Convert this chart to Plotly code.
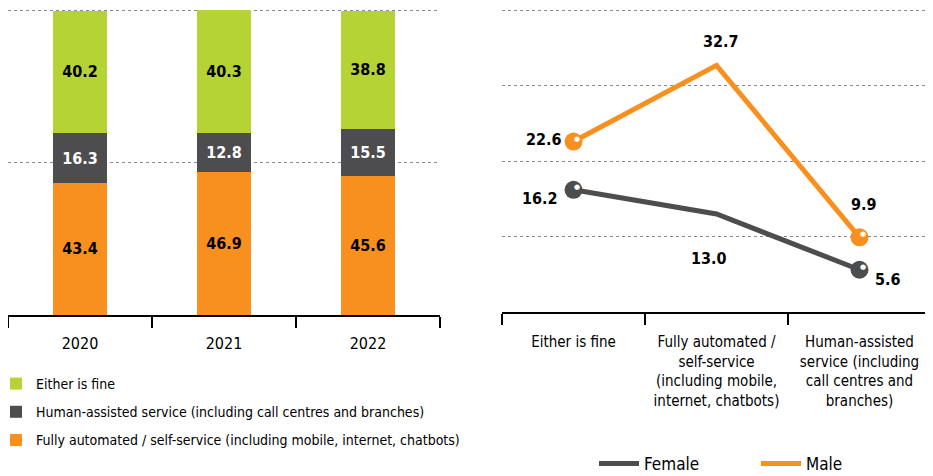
import plotly.graph_objects as go

# ---- data ----
years = ["2020", "2021", "2022"]
fully_automated = [43.4, 46.9, 45.6]
human_assisted = [16.3, 12.8, 15.5]
either_fine = [40.2, 40.3, 38.8]

categories = ["Either is fine",
              "Fully automated /<br>self-service<br>(including mobile,<br>internet, chatbots)",
              "Human-assisted<br>service (including<br>call centres and<br>branches)"]
female = [16.2, 13.0, 5.6]
male = [22.6, 32.7, 9.9]

GREEN = "#b5d334"
GREY = "#4d4d4f"
ORANGE = "#f7901e"
FONT = "DejaVu Sans Condensed, Liberation Sans, sans-serif"

# page body has an 8px margin; figure is sized to fill the rest of the window
OFF = 8
W, H = 933 - OFF, 476 - OFF

def px_x(p, clamp=False):
    v = (p - OFF) / W
    return min(max(v, 0.0), 1.0) if clamp else v

def px_y(p, clamp=False):
    v = (H - (p - OFF)) / H
    return min(max(v, 0.0), 1.0) if clamp else v

fig = go.Figure()

# ---- left: stacked bars ----
bar_specs = [
    ("Fully automated / self-service (including mobile, internet, chatbots)", fully_automated, ORANGE, "black", 3),
    ("Human-assisted service (including call centres and branches)", human_assisted, GREY, "white", 2),
    ("Either is fine", either_fine, GREEN, "black", 1),
]
for k, (name, vals, col, tcol, rank) in enumerate(bar_specs):
    fig.add_trace(go.Bar(
        x=years, y=vals, name=name, marker=dict(color=col, line=dict(width=0)),
        width=0.37, text=[f"{v:.1f}" for v in vals], textposition="inside",
        insidetextanchor="middle", textangle=0,
        textfont=dict(family=FONT, size=16, color=tcol, weight="bold"),
        xaxis="x", yaxis="y", legend="legend", legendgroup=f"g{k}", legendrank=rank,
    ))

# ---- right: lines ----
fig.add_trace(go.Scatter(
    x=categories, y=female, name="Female", mode="lines",
    line=dict(color=GREY, width=5), xaxis="x2", yaxis="y2", legend="legend2",
))
fig.add_trace(go.Scatter(
    x=categories, y=male, name="Male", mode="lines",
    line=dict(color=ORANGE, width=5), xaxis="x2", yaxis="y2", legend="legend3",
))

fig.add_trace(go.Scatter(
    x=categories, y=female, mode="markers", showlegend=False,
    marker=dict(color=GREY, size=[18, 0, 18], opacity=1, line=dict(width=0)),
    xaxis="x2", yaxis="y2", hoverinfo="skip",
))
fig.add_trace(go.Scatter(
    x=categories, y=male, mode="markers", showlegend=False,
    marker=dict(color=ORANGE, size=[18, 0, 18], opacity=1, line=dict(width=0)),
    xaxis="x2", yaxis="y2", hoverinfo="skip",
))

# highlights on markers
annots = []
for vals in (female, male):
    for i in (0, 2):
        annots.append(dict(x=categories[i], y=vals[i], xref="x2", yref="y2",
                           text="●", showarrow=False, xshift=3, yshift=3,
                           font=dict(size=7, color="white", family="DejaVu Sans")))

# value labels on lines
label_offsets_f = [(-34, -9), (-8, -45), (28, -10)]
label_offsets_m = [(-30, 2), (4, 24), (4, 33)]
for vals, offs in ((female, label_offsets_f), (male, label_offsets_m)):
    for i, v in enumerate(vals):
        annots.append(dict(x=categories[i], y=v, xref="x2", yref="y2",
                           text=f"{v:.1f}", showarrow=False,
                           xshift=offs[i][0], yshift=offs[i][1],
                           font=dict(family=FONT, size=16, color="black", weight="bold")))

fig.update_layout(
    width=W, height=H,
    margin=dict(l=0, r=0, t=0, b=0, autoexpand=False),
    paper_bgcolor="white", plot_bgcolor="white",
    barmode="stack",
    showlegend=True,
    font=dict(family=FONT, color="black"),
    xaxis=dict(domain=[px_x(6, True), px_x(440, True)], type="category", range=[-0.5, 2.5],
               showline=True, linecolor="black", linewidth=2, tickangle=0,
               ticks="outside", tickson="boundaries", ticklen=11, tickwidth=2,
               ticklabelstandoff=13,
               tickcolor="black", tickfont=dict(size=16, family=FONT), showgrid=False),
    yaxis=dict(domain=[px_y(315, True), px_y(8, True)], range=[0, 100.8], tickvals=[50, 100],
               showgrid=True, gridcolor="#888888", griddash="dot", gridwidth=1,
               showticklabels=False, zeroline=False, showline=False, ticks=""),
    xaxis2=dict(domain=[px_x(502, True), px_x(931, True)], type="category", range=[-0.5, 2.5],
                anchor="y2", showline=True, linecolor="black", linewidth=2, tickangle=0,
                ticks="outside", tickson="boundaries", ticklen=11, tickwidth=2,
                ticklabelstandoff=15,
                tickcolor="black", tickfont=dict(size=15, family=FONT), showgrid=False),
    yaxis2=dict(domain=[px_y(312, True), px_y(8, True)], range=[0, 40.3], tickvals=[10, 20, 30, 40],
                anchor="x2",
                showgrid=True, gridcolor="#888888", griddash="dot", gridwidth=1,
                showticklabels=False, zeroline=False, showline=False, ticks=""),
    legend=dict(x=px_x(-4), y=px_y(368), xanchor="left", yanchor="top",
                orientation="v", traceorder="grouped",
                font=dict(size=14, family=FONT), itemwidth=30,
                tracegroupgap=7, bgcolor="rgba(0,0,0,0)"),
    legend2=dict(x=px_x(594), y=px_y(482), xanchor="left", yanchor="bottom",
                 orientation="h", font=dict(size=17, family=FONT),
                 itemwidth=40, bgcolor="rgba(0,0,0,0)"),
    legend3=dict(x=px_x(756), y=px_y(482), xanchor="left", yanchor="bottom",
                 orientation="h", font=dict(size=17, family=FONT),
                 itemwidth=40, bgcolor="rgba(0,0,0,0)"),
    annotations=annots,
)

fig.write_html("out.html")
